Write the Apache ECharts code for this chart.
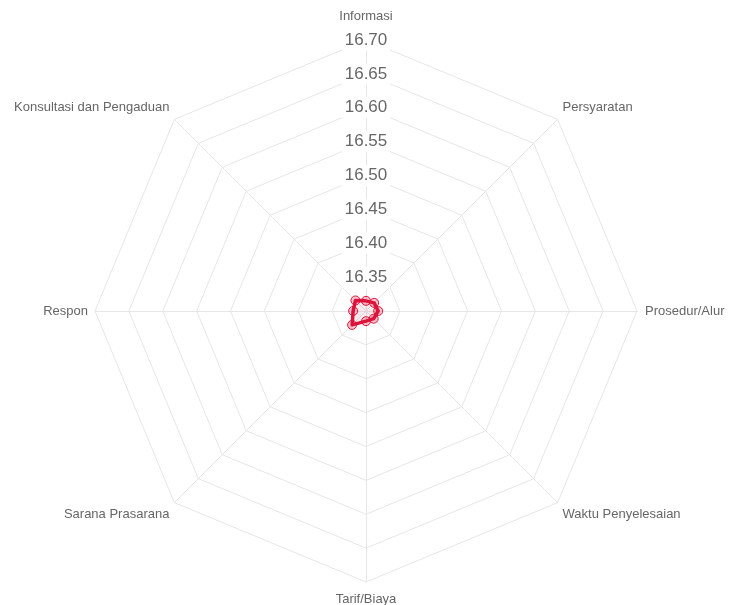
<!doctype html>
<html>
<head>
	<meta charset="utf-8">
	<title>Indeks Unsur Layanan</title>
	<style>
		html, body { margin: 0; padding: 0; background: #fff; }
		#main { width: 729px; height: 605px; }
	</style>
</head>
<body>
<div id="main"></div>
<script src="https://cdn.jsdelivr.net/npm/echarts@6/dist/echarts.min.js"></script>
<script>
	// unsur layanan, searah jarum jam mulai dari atas
	var kategori = ['Informasi', 'Persyaratan', 'Prosedur/Alur', 'Waktu Penyelesaian', 'Tarif/Biaya', 'Sarana Prasarana', 'Respon', 'Konsultasi dan Pengaduan']
	var nilai = [16.315, 16.317, 16.318, 16.316, 16.315, 16.329, 16.319, 16.322]
	var skalaMin = 16.30
	var skalaMax = 16.70
	var skalaStep = 0.05

	var pusat = [366, 311]
	var jari = 271
	var abu = '#666'
	var huruf = '"Liberation Sans", Arial, sans-serif'

	// echarts menyusun indikator berlawanan jarum jam, jadi urutannya dibalik
	var urutan = [0, 7, 6, 5, 4, 3, 2, 1]
	var jarakNama = [17, 7, 8, 7, 10, 7, 7, 7]
	// nama diagonal digeser setengah baris ke atas (-1) atau ke bawah (1)
	var geserNama = [0, -1, 0, 1, 0, 1, 0, -1]

	var indikator = []
	var nilaiRadar = []
	for (var i = 0; i < urutan.length; i++) {
		var k = urutan[i]
		var teks = kategori[k]
		if (geserNama[k] < 0) teks = teks + '\n '
		if (geserNama[k] > 0) teks = ' \n' + teks
		indikator.push({ name: teks, min: skalaMin, max: skalaMax, nameGap: jarakNama[k] })
		nilaiRadar.push(nilai[k])
	}

	var myChart = echarts.init(document.getElementById('main'))
	var option = {
		animation: false,
		radar: {
			center: pusat,
			radius: jari,
			startAngle: 90,
			shape: 'polygon',
			splitNumber: Math.round((skalaMax - skalaMin) / skalaStep),
			indicator: indikator,
			axisName: { color: abu, fontSize: 13, lineHeight: 14, fontFamily: huruf },
			axisLine: { lineStyle: { color: '#e6e6e6', width: 1 } },
			splitLine: { lineStyle: { color: '#e6e6e6', width: 1 } },
			splitArea: { show: false },
			axisLabel: { show: false },
			axisTick: { show: false }
		},
		// sumbu bantu untuk label skala di jari-jari atas
		grid: { left: pusat[0], top: pusat[1] - jari, width: 1, height: jari },
		xAxis: { type: 'value', show: false },
		yAxis: {
			type: 'value',
			min: skalaMin,
			max: skalaMax,
			interval: skalaStep,
			z: 1,
			axisLine: { show: false },
			axisTick: { show: false },
			splitLine: { show: false },
			axisLabel: {
				showMinLabel: false,
				margin: 0,
				align: 'center',
				verticalAlign: 'middle',
				color: abu,
				fontSize: 17,
				fontFamily: huruf,
				backgroundColor: '#fff',
				padding: [2, 3],
				formatter: function (v) { return v.toFixed(2) }
			}
		},
		series: [{
			type: 'radar',
			symbol: 'circle',
			symbolSize: 9,
			lineStyle: { color: '#dc143c', width: 3.5 },
			areaStyle: { color: 'rgba(220,20,60,0.12)' },
			itemStyle: { color: 'rgba(220,20,60,0.25)', borderColor: '#dc143c', borderWidth: 1 },
			data: [{ value: nilaiRadar, name: 'Indeks' }]
		}]
	}
	myChart.setOption(option)
</script>
</body>
</html>
